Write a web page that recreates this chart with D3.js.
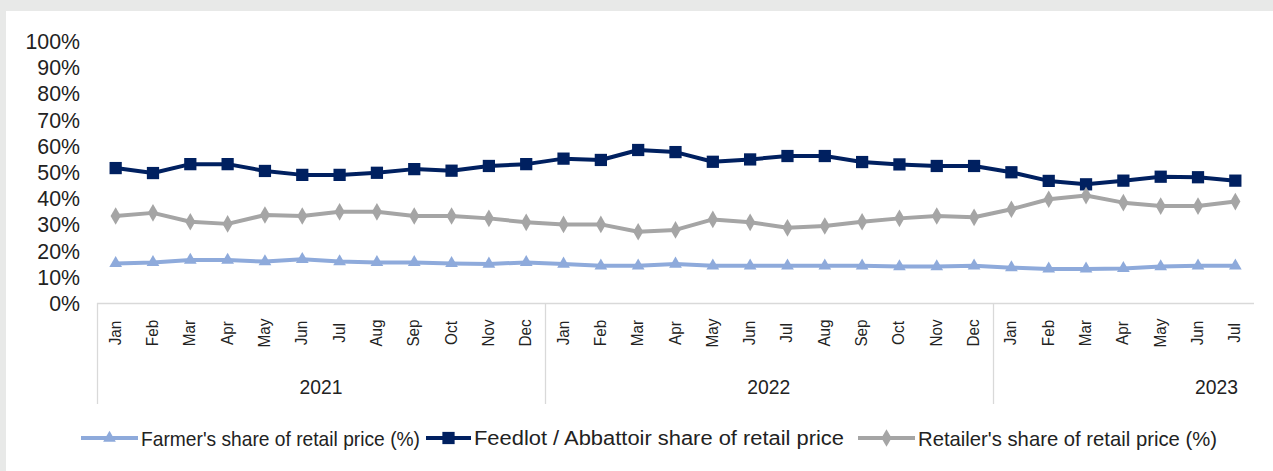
<!DOCTYPE html>
<html>
<head>
<meta charset="utf-8">
<script src="https://cdn.jsdelivr.net/npm/d3@7"></script>
<style>
  body { margin: 0; background: #e8e9e8; }
  svg { display: block; }
  text { font-family: "Liberation Sans", Arial, sans-serif; fill: #222; }
</style>
</head>
<body>
<svg width="1273" height="471"></svg>
<script>
var months = ["Jan","Feb","Mar","Apr","May","Jun","Jul","Aug","Sep","Oct","Nov","Dec",
              "Jan","Feb","Mar","Apr","May","Jun","Jul","Aug","Sep","Oct","Nov","Dec",
              "Jan","Feb","Mar","Apr","May","Jun","Jul"]
var years = ["2021", "2022", "2023"]
var yTicks = [0,10,20,30,40,50,60,70,80,90,100]

var farmer = [15.1,15.5,16.4,16.4,15.8,16.7,15.8,15.5,15.5,15.1,14.9,15.5,
              14.9,14.2,14.2,14.9,14.2,14.2,14.2,14.2,14.2,13.9,13.9,14.2,
              13.5,13.0,13.0,13.2,13.9,14.2,14.2]
var feedlot = [51.5,49.6,53.0,53.0,50.4,48.9,48.9,49.7,51.1,50.5,52.3,53.0,
               55.1,54.6,58.4,57.6,53.9,54.8,56.1,56.1,53.8,52.9,52.3,52.3,
               49.9,46.6,45.3,46.7,48.2,48.0,46.7]
var retailer = [33.2,34.4,31.0,30.2,33.6,33.2,34.8,34.8,33.2,33.2,32.3,30.8,
                30.0,30.0,27.2,27.9,31.9,30.8,28.7,29.4,31.0,32.3,33.2,32.7,
                35.8,39.6,41.0,38.3,37.0,37.0,38.7]

var series = [
  { name: "Farmer's share of retail price (%)", values: farmer, color: "#8eaadb", marker: "triangle" },
  { name: "Feedlot / Abbattoir share of retail price", values: feedlot, color: "#002060", marker: "square" },
  { name: "Retailer's share of retail price (%)", values: retailer, color: "#a5a5a5", marker: "diamond" }
]

var svg = d3.select("svg")

// white panel
svg.append("rect").attr("x", 6).attr("y", 11).attr("width", 1267).attr("height", 460).attr("fill", "#fff")

var x = d3.scaleBand().domain(d3.range(months.length)).range([97, 1254]).padding(0)
var y = d3.scaleLinear().domain([0, 100]).range([303, 41])

// squeeze a text to a share of its normal width (the source font is a narrow one)
function squeeze(sel, k) {
  sel.each(function() {
    var w = this.getComputedTextLength()
    d3.select(this).attr("textLength", w * k).attr("lengthAdjust", "spacingAndGlyphs")
  })
}

// y labels
svg.append("g").selectAll("text")
  .data(yTicks).enter().append("text")
  .attr("x", 80).attr("y", function(d) { return y(d) })
  .attr("dy", "0.36em")
  .attr("text-anchor", "end")
  .style("font-size", "22px")
  .text(function(d) { return d + "%" })
  .call(squeeze, 0.97)

// category axis
var axis = svg.append("g").attr("stroke", "#d9d9d9").attr("stroke-width", 1.3)
axis.append("line").attr("x1", 97).attr("x2", 1254).attr("y1", 303.5).attr("y2", 303.5)
var seps = [0, 12, 24]
axis.selectAll(".sep").data(seps).enter().append("line")
  .attr("x1", function(d) { return Math.round(x(d)) + 0.5 })
  .attr("x2", function(d) { return Math.round(x(d)) + 0.5 })
  .attr("y1", 303).attr("y2", 404)

svg.append("g").selectAll("text")
  .data(months).enter().append("text")
  .attr("transform", function(d, i) { return "translate(" + (x(i) + x.bandwidth() / 2 + 5) + ",333) rotate(-90)" })
  .attr("text-anchor", "middle")
  .style("font-size", "17px")
  .text(function(d) { return d })
  .call(squeeze, 0.9)

var yearX = [(x(0) + x(11) + x.bandwidth()) / 2, (x(12) + x(23) + x.bandwidth()) / 2, 1238]
svg.append("g").selectAll("text")
  .data(years).enter().append("text")
  .attr("x", function(d, i) { return yearX[i] })
  .attr("y", 394)
  .attr("text-anchor", function(d, i) { return i == 2 ? "end" : "middle" })
  .style("font-size", "21px")
  .text(function(d) { return d })
  .call(squeeze, 0.92)

// marker shapes
function markerPath(type, size) {
  if (type == "square") return d3.symbol(d3.symbolSquare, size)()
  if (type == "triangle") return d3.symbol(d3.symbolTriangle, size)()
  return d3.symbol(d3.symbolDiamond, size)()
}
var msize = { square: 150, triangle: 70, diamond: 90 }

var line = d3.line()
  .x(function(d, i) { return x(i) + x.bandwidth() / 2 })
  .y(function(d) { return y(d) })

series.forEach(function(s) {
  var g = svg.append("g")
  g.append("path").datum(s.values)
    .attr("d", line)
    .attr("fill", "none")
    .attr("stroke", s.color)
    .attr("stroke-width", 4)
    .attr("stroke-linejoin", "round")
  g.selectAll("path.m").data(s.values).enter().append("path")
    .attr("class", "m")
    .attr("d", markerPath(s.marker, msize[s.marker]))
    .attr("transform", function(d, i) { return "translate(" + (x(i) + x.bandwidth() / 2) + "," + y(d) + ")" })
    .attr("fill", s.color)
})

// legend: line start, text start, text width
var legPos = [[81, 141, 279], [426, 474, 370], [858, 918, 299]]
var leg = svg.append("g")
series.forEach(function(s, i) {
  var p = legPos[i]
  leg.append("line").attr("x1", p[0]).attr("x2", p[1] - 3).attr("y1", 438).attr("y2", 438)
    .attr("stroke", s.color).attr("stroke-width", 4)
  leg.append("path").attr("d", markerPath(s.marker, msize[s.marker]))
    .attr("transform", "translate(" + ((p[0] + p[1] - 3) / 2) + ",438)")
    .attr("fill", s.color)
  leg.append("text").attr("x", p[1]).attr("y", 438).attr("dy", "0.36em")
    .style("font-size", i == 1 ? "20px" : "21px")
    .attr("textLength", p[2]).attr("lengthAdjust", "spacingAndGlyphs")
    .text(s.name)
})
</script>
</body>
</html>
